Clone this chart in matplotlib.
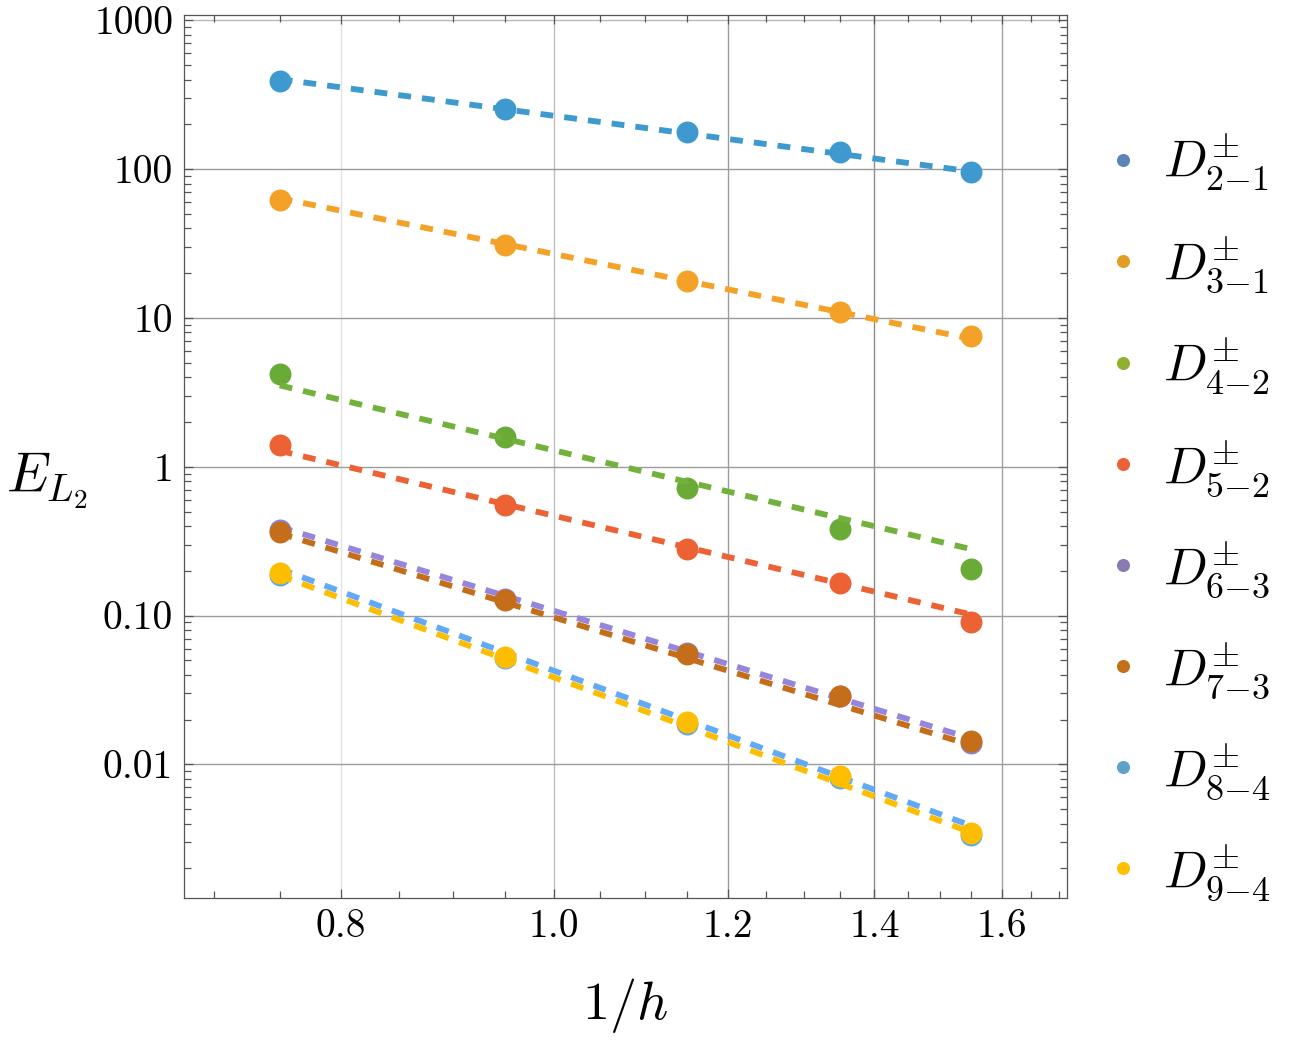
import numpy as np
import matplotlib
matplotlib.use("Agg")
import matplotlib.pyplot as plt
from matplotlib.lines import Line2D
from matplotlib.ticker import FixedLocator, FixedFormatter, NullFormatter

plt.rcParams["font.family"] = "serif"
plt.rcParams["font.serif"] = ["cmr10"]
plt.rcParams["mathtext.fontset"] = "cm"
plt.rcParams["axes.unicode_minus"] = False

# ---------------------------------------------------------------------------
#  data
# ---------------------------------------------------------------------------
inv_h = [0.75, 0.95, 1.15, 1.35, 1.55]

series = ["2-1", "3-1", "4-2", "5-2", "6-3", "7-3", "8-4", "9-4"]

err_21 = [391, 253, 177, 130, 96.0]
err_31 = [62.3, 31.0, 17.7, 11.0, 7.59]
err_42 = [4.18, 1.585, 0.719, 0.381, 0.205]
err_52 = [1.40, 0.553, 0.280, 0.1655, 0.090]
err_63 = [0.375, 0.129, 0.0560, 0.0287, 0.0140]
err_73 = [0.364, 0.127, 0.0551, 0.0288, 0.01435]
err_84 = [0.188, 0.0515, 0.0186, 0.0081, 0.00335]
err_94 = [0.194, 0.0526, 0.0192, 0.00834, 0.00344]

# dashed fit lines: value at first and last 1/h
fit_21 = [402, 96.4]
fit_31 = [63.7, 7.23]
fit_42 = [3.52, 0.279]
fit_52 = [1.279, 0.1014]
fit_63 = [0.394, 0.0149]
fit_73 = [0.3565, 0.01343]
fit_84 = [0.206, 0.00386]
fit_94 = [0.186, 0.00348]

errs = [err_21, err_31, err_42, err_52, err_63, err_73, err_84, err_94]
fits = [fit_21, fit_31, fit_42, fit_52, fit_63, fit_73, fit_84, fit_94]

point_colors = ["#3d99ce", "#f3a127", "#6aab38", "#ec6235",
                "#8f80d0", "#c46e1a", "#5fa6ea", "#fdbd00"]
line_colors = ["#3d99ce", "#f3a127", "#72b23c", "#ec6235",
               "#9586db", "#c46e1a", "#62a9f7", "#fdbd00"]
legend_colors = ["#5b84b8", "#e29d25", "#8fb131", "#ec6236",
                 "#8a7ab3", "#c4701b", "#5ea1cb", "#ffc000"]

x_major = [0.8, 1.0, 1.2, 1.4, 1.6]
x_major_labels = ["0.8", "1.0", "1.2", "1.4", "1.6"]
x_grid_colors = ["#e2e2e2", "#bdbdbd", "#9c9c9c", "#8c8c8c", "#a2a2a2"]
y_major = [0.01, 0.1, 1, 10, 100, 1000]
y_major_labels = ["0.01", "0.10", "1", "10", "100", "1000"]
y_grid_colors = ["#9c9c9c", "#9c9c9c", "#9c9c9c", "#9c9c9c", "#9c9c9c", "#b8b8b8"]

# ---------------------------------------------------------------------------
#  figure
# ---------------------------------------------------------------------------
fig = plt.figure(figsize=(12.93, 10.46), dpi=100)
ax = fig.add_axes([0.1425, 0.1415, 0.6825, 0.8439])
ax.set_xscale("log")
ax.set_yscale("log")
ax.set_xlim(0.6785, 1.713)
ax.set_ylim(0.001264, 1081)

for xv, c in zip(x_major, x_grid_colors):
    ax.axvline(xv, color=c, lw=1.0, zorder=1)
for yv, c in zip(y_major, y_grid_colors):
    ax.axhline(yv, color=c, lw=1.0, zorder=1)

for k, (e, f) in enumerate(zip(errs, fits)):
    ax.plot(inv_h, e, "o", ms=15.8, color=point_colors[k], mec="none",
            zorder=3 + 2 * k)
    ax.plot([inv_h[0], inv_h[-1]], f, color=line_colors[k], lw=4.2,
            dashes=(2.2, 1.9), zorder=4 + 2 * k)

# ticks (Mathematica-like frame)
x_minor = [round(0.7 + 0.05 * i, 2) for i in range(21)]
x_minor = [v for v in x_minor if v not in x_major]
y_minor = [m * 10.0 ** p for p in range(-3, 3) for m in range(2, 10)]
ax.xaxis.set_major_locator(FixedLocator(x_major))
ax.xaxis.set_major_formatter(FixedFormatter(x_major_labels))
ax.xaxis.set_minor_locator(FixedLocator(x_minor))
ax.xaxis.set_minor_formatter(NullFormatter())
ax.yaxis.set_major_locator(FixedLocator(y_major))
ax.yaxis.set_major_formatter(FixedFormatter(y_major_labels))
ax.yaxis.set_minor_locator(FixedLocator(y_minor))
ax.yaxis.set_minor_formatter(NullFormatter())
ax.tick_params(which="both", direction="in", top=True, right=True,
               color="#555555", width=0.9, labelsize=28.5, pad=8)
ax.tick_params(which="major", length=6.5)
ax.tick_params(which="minor", length=5.0)
for s in ax.spines.values():
    s.set_color("#555555")
    s.set_linewidth(0.9)

ax.set_xlabel(r"$1/h$", fontsize=39, labelpad=22)
ax.set_ylabel(r"$E_{L_2}$", fontsize=40, rotation=0, va="center", ha="center")
ax.yaxis.set_label_coords(-0.156, 0.472)

handles = [Line2D([], [], ls="none", marker="o", ms=9.4, color=c, mec="none")
           for c in legend_colors]
labels = []
for s in series:
    a, b = s.split("-")
    labels.append(r"$D^{\pm}_{%s{-}%s}$" % (a, b))
fig.legend(handles, labels, loc="center left", bbox_to_anchor=(0.8608, 0.506),
           frameon=False, fontsize=37, handlelength=0.4, handletextpad=0.58,
           labelspacing=0.80, borderpad=0, borderaxespad=0)

fig.savefig("out.png", dpi=100)
